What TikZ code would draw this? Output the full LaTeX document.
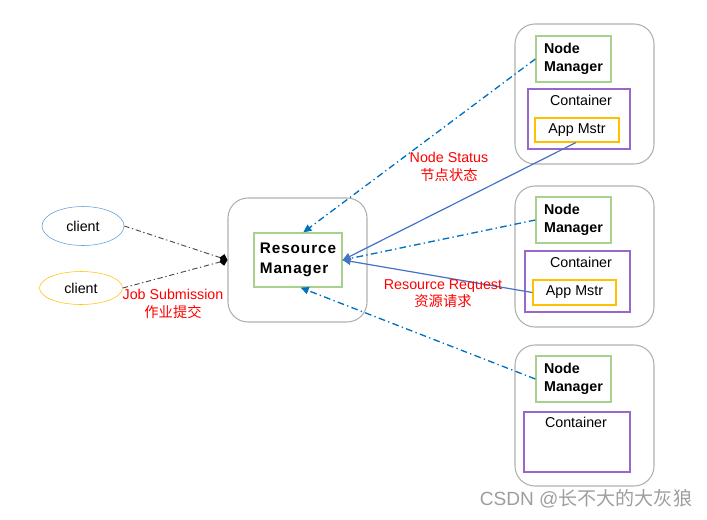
\documentclass[tikz,border=0pt]{standalone}
\usepackage{fontspec}
\setmainfont{Liberation Sans}
\newfontfamily\cjk{Noto Sans CJK SC}
\usetikzlibrary{arrows.meta,shapes.geometric}
\newcommand\pxu{0.75pt}
\definecolor{boxgray}{HTML}{B0B0B0}
\definecolor{nmgreen}{HTML}{A9D18E}
\definecolor{ctpurple}{HTML}{9966CC}
\definecolor{amgold}{HTML}{FFC000}
\definecolor{clblue}{HTML}{5B9BD5}
\definecolor{dotblue}{HTML}{0070C0}
\definecolor{lineblue}{HTML}{4472C4}
\tikzset{
  txt/.style={font=\fontsize{10.7}{13}\selectfont, inner sep=0pt},
  host/.style={draw=boxgray, rounded corners=15pt, line width=0.8pt, minimum width=139*\pxu, minimum height=140*\pxu},
  nmbox/.style={draw=nmgreen, line width=1pt, minimum width=75*\pxu, minimum height=46*\pxu, align=left,
    font=\fontsize{10.7}{13.5}\selectfont\bfseries},
  ctbox/.style={draw=ctpurple, line width=1pt},
  ambox/.style={draw=amgold, line width=1pt, txt},
  redlbl/.style={txt, text=red, align=center},
  status/.style={dotblue, line width=1pt, dash pattern=on 5pt off 2.5pt on 1pt off 2.5pt},
  submit/.style={black!70, line width=0.7pt, dash pattern=on 4pt off 2pt on 1pt off 2pt},
  request/.style={lineblue, line width=0.9pt},
  tipblue/.style={-{Triangle[length=6pt,width=5.5pt]}},
  tipblack/.style={-{Kite[length=6pt,width=7pt,inset=2.5pt,black]}}
}
\begin{document}
\begin{tikzpicture}[x=0.75pt, y=-0.75pt]
				\useasboundingbox (0,0) rectangle (707,519);
				\node[draw=clblue, ellipse, minimum width=82*\pxu, minimum height=39*\pxu, txt] (cl1) at (83,226) {client};
				\node[draw=amgold, ellipse, minimum width=83*\pxu, minimum height=33*\pxu, txt] (cl2) at (81,288) {client};
				\node[host, minimum height=124*\pxu] (rmhost) at (297.5,260) {};
				\node[draw=nmgreen, line width=1pt, minimum width=88*\pxu, minimum height=54*\pxu, align=left,
					font=\fontsize{11.5}{15}\selectfont\bfseries\addfontfeature{LetterSpace=6}] (rm) at (298,260) {Resource\\Manager};
				\node[host] (host1) at (584.5,94) {};
				\node[nmbox] (nm1) at (573.5,59) {Node\\Manager};
				\node[ctbox, minimum width=102*\pxu, minimum height=60*\pxu] (ct1) at (579,119) {};
				\node[txt] (ct1lbl) at (581,100) {Container};
				\node[ambox, minimum width=84*\pxu, minimum height=24*\pxu] (am1) at (577,130) {App Mstr};
				\node[host, minimum height=141*\pxu] (host2) at (584.5,256.5) {};
				\node[nmbox] (nm2) at (573.5,220) {Node\\Manager};
				\node[ctbox, minimum width=105*\pxu, minimum height=61*\pxu] (ct2) at (577.5,281.5) {};
				\node[txt] (ct2lbl) at (581,262) {Container};
				\node[ambox, minimum width=83*\pxu, minimum height=25*\pxu] (am2) at (574.5,292.5) {App Mstr};
				\node[host, minimum height=141*\pxu] (host3) at (584.5,415.5) {};
				\node[nmbox] (nm3) at (573.5,379) {Node\\Manager};
				\node[ctbox, minimum width=106*\pxu, minimum height=60*\pxu] (ct3) at (577,442) {};
				\node[txt] (ct3lbl) at (576,422) {Container};
				\draw[submit, tipblack] (cl1.east) -- (rmhost.west);
				\draw[submit, tipblack] (cl2.east) -- (rmhost.west);
				\draw[status, tipblue] (nm1.west) -- ([xshift=4]rm.north);
				\draw[status] (nm2.west) -- (rm.east);
				\draw[status, tipblue] (nm3.west) -- ([xshift=2]rm.south);
				\draw[request, tipblue] ([xshift=-1]am1.south) -- (rm.east);
				\draw[request, tipblue] (am2.west) -- (rm.east);
				\node[redlbl] (jobsub) at (173,304) {Job Submission\\{\cjk 作业提交}};
				\node[redlbl] (nodestat) at (449,167) {Node Status\\{\cjk 节点状态}};
				\node[redlbl] (resreq) at (443,294) {Resource Request\\{\cjk 资源请求}};
				\node[txt, text=black!38, font=\fontsize{14.3}{17}\selectfont] (mark) at (586,499) {CSDN @{\cjk 长不大的大灰狼}};
			\end{tikzpicture}
\end{document}
